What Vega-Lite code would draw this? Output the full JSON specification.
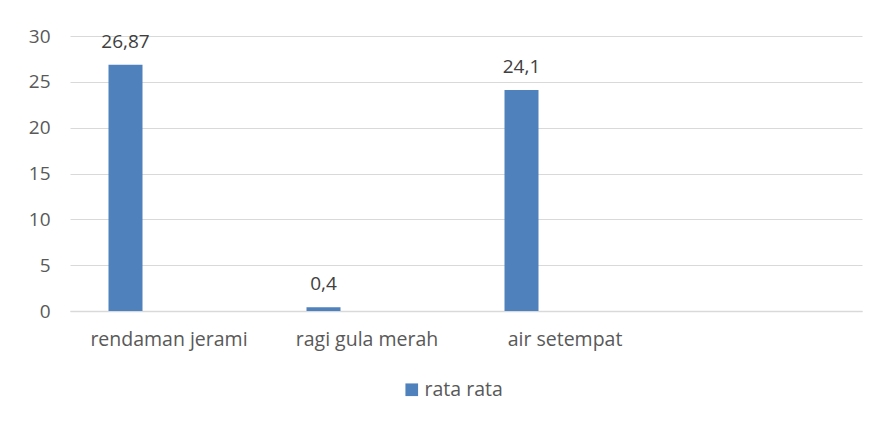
{
  "$schema": "https://vega.github.io/schema/vega-lite/v6.json",
  "autosize": "none",
  "width": 792,
  "height": 275,
  "padding": {"left": 70, "top": 36, "right": 15, "bottom": 110},
  "background": "white",
  "config": {
    "view": {"stroke": null},
    "font": "Open Sans",
    "locale": {"number": {"decimal": ",", "thousands": ".", "grouping": [3], "currency": ["", ""]}}
  },
  "data": {
    "values": [
      {"kategori": "rendaman jerami", "nilai": 26.87, "seri": "rata rata"},
      {"kategori": "ragi gula merah", "nilai": 0.4, "seri": "rata rata"},
      {"kategori": "air setempat", "nilai": 24.1, "seri": "rata rata"}
    ]
  },
  "encoding": {
    "x": {
      "field": "kategori",
      "type": "nominal",
      "sort": null,
      "scale": {"domain": ["rendaman jerami", "ragi gula merah", "air setempat", " "], "paddingInner": 0, "paddingOuter": 0},
      "axis": {
        "title": null,
        "labelAngle": 0,
        "labelFontSize": 19.5,
        "labelColor": "#595959",
        "labelPadding": 19,
        "ticks": false,
        "domainColor": "#d9d9d9",
        "domainWidth": 1.5
      }
    },
    "y": {
      "field": "nilai",
      "type": "quantitative",
      "scale": {"domain": [0, 30], "nice": false},
      "axis": {
        "title": null,
        "values": [0, 5, 10, 15, 20, 25, 30],
        "labelFontSize": 19,
        "labelColor": "#595959",
        "labelPadding": 20,
        "ticks": false,
        "domain": false,
        "gridColor": "#d9d9d9",
        "gridWidth": 1.2
      }
    }
  },
  "layer": [
    {
      "mark": {"type": "bar", "width": 34, "xOffset": -43.5},
      "encoding": {
        "color": {
          "field": "seri",
          "type": "nominal",
          "scale": {"range": ["#4f81bd"]},
          "legend": {
            "title": null,
            "orient": "none",
            "legendX": 332,
            "legendY": 344,
            "symbolType": "square",
            "symbolSize": 160,
            "symbolOffset": 0,
            "labelFontSize": 19.5,
            "labelColor": "#595959",
            "labelOffset": 3
          }
        }
      }
    },
    {
      "mark": {"type": "text", "xOffset": -43.5, "dy": -13, "baseline": "bottom", "fontSize": 19, "color": "#404040"},
      "encoding": {
        "text": {"field": "nilai", "type": "quantitative", "format": ".4~g"}
      }
    }
  ]
}
